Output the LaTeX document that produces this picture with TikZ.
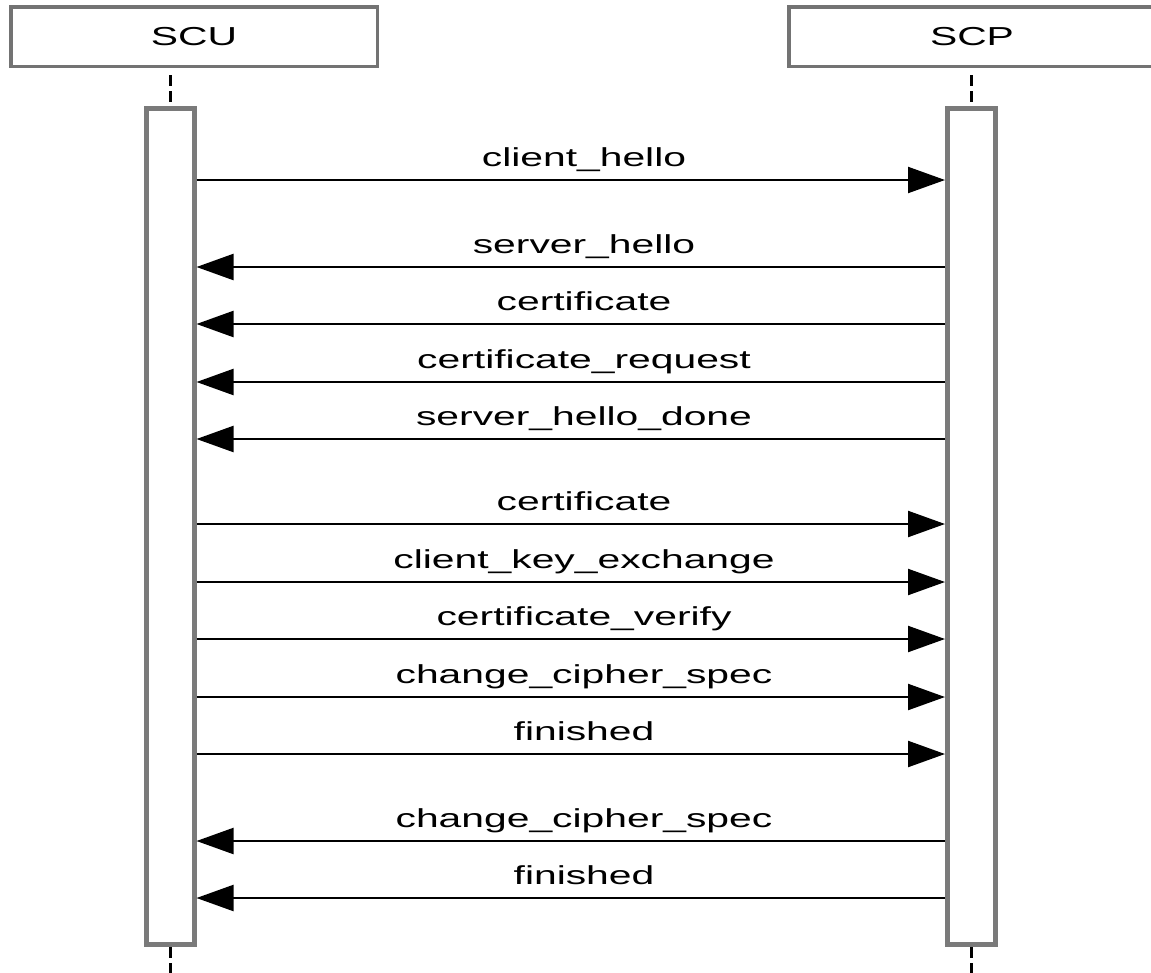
\documentclass[tikz,border=0pt]{standalone}
\usepackage{fontspec}
\newfontfamily\lblfont[FakeStretch=1.57]{Liberation Sans}
\usetikzlibrary{arrows.meta}
\begin{document}
\begin{tikzpicture}[x=1pt,y=-1pt,
 hdr/.style={draw=black!55, line width=3.5pt, fill=white, minimum width=366.5pt, minimum height=59.5pt, font=\lblfont\fontsize{26}{30}\selectfont, inner sep=0pt},
 bar/.style={draw=black!52, line width=5pt, fill=white, minimum width=48pt, minimum height=836pt, inner sep=0pt},
 life/.style={line width=3pt, dash pattern=on 11pt off 5pt},
 msg/.style={line width=2.2pt, -{Triangle[length=37pt,width=26pt]}},
 lbl/.style={font=\lblfont\fontsize{26}{30}\selectfont, inner sep=0pt, anchor=base}]
\useasboundingbox (0,0) rectangle (1151,972);
\node[hdr] (scu) at (194,36.5) {SCU};
\node[hdr] (scp) at (972,36.5) {SCP};
\node[bar] (scubar) at (170,526.5) {};
\node[bar] (scpbar) at (971.5,526.5) {};
\draw[life] (scubar.north |- 0,75) -- (scubar.north);
\draw[life] (scpbar.north |- 0,75) -- (scpbar.north);
\draw[life] (scubar.south) -- (scubar.south |- 0,974);
\draw[life] (scpbar.south) -- (scpbar.south |- 0,974);
\node[bar] at (scubar) {};
\node[bar] at (scpbar) {};
% message levels
\foreach \n/\y in {1/180,2/267,3/324,4/382,5/439,6/524,7/582,8/639,9/697,10/754,11/841,12/898}
  \coordinate (m\n) at (0,\y);
\draw[msg] (scubar.east |- m1) -- (scpbar.west |- m1);
\draw[msg] (scpbar.west |- m2) -- (scubar.east |- m2);
\draw[msg] (scpbar.west |- m3) -- (scubar.east |- m3);
\draw[msg] (scpbar.west |- m4) -- (scubar.east |- m4);
\draw[msg] (scpbar.west |- m5) -- (scubar.east |- m5);
\draw[msg] (scubar.east |- m6) -- (scpbar.west |- m6);
\draw[msg] (scubar.east |- m7) -- (scpbar.west |- m7);
\draw[msg] (scubar.east |- m8) -- (scpbar.west |- m8);
\draw[msg] (scubar.east |- m9) -- (scpbar.west |- m9);
\draw[msg] (scubar.east |- m10) -- (scpbar.west |- m10);
\draw[msg] (scpbar.west |- m11) -- (scubar.east |- m11);
\draw[msg] (scpbar.west |- m12) -- (scubar.east |- m12);
\node[lbl] (l1) at (584,166.5) {client\_hello};
\node[lbl] (l2) at (584,253.5) {server\_hello};
\node[lbl] (l3) at (584,310.5) {certificate};
\node[lbl] (l4) at (584,368.5) {certificate\_request};
\node[lbl] (l5) at (584,425.5) {server\_hello\_done};
\node[lbl] (l6) at (584,510.5) {certificate};
\node[lbl] (l7) at (584,568.5) {client\_key\_exchange};
\node[lbl] (l8) at (584,625.5) {certificate\_verify};
\node[lbl] (l9) at (584,683.5) {change\_cipher\_spec};
\node[lbl] (l10) at (584,740.5) {finished};
\node[lbl] (l11) at (584,827.5) {change\_cipher\_spec};
\node[lbl] (l12) at (584,884.5) {finished};
\end{tikzpicture}
\end{document}
